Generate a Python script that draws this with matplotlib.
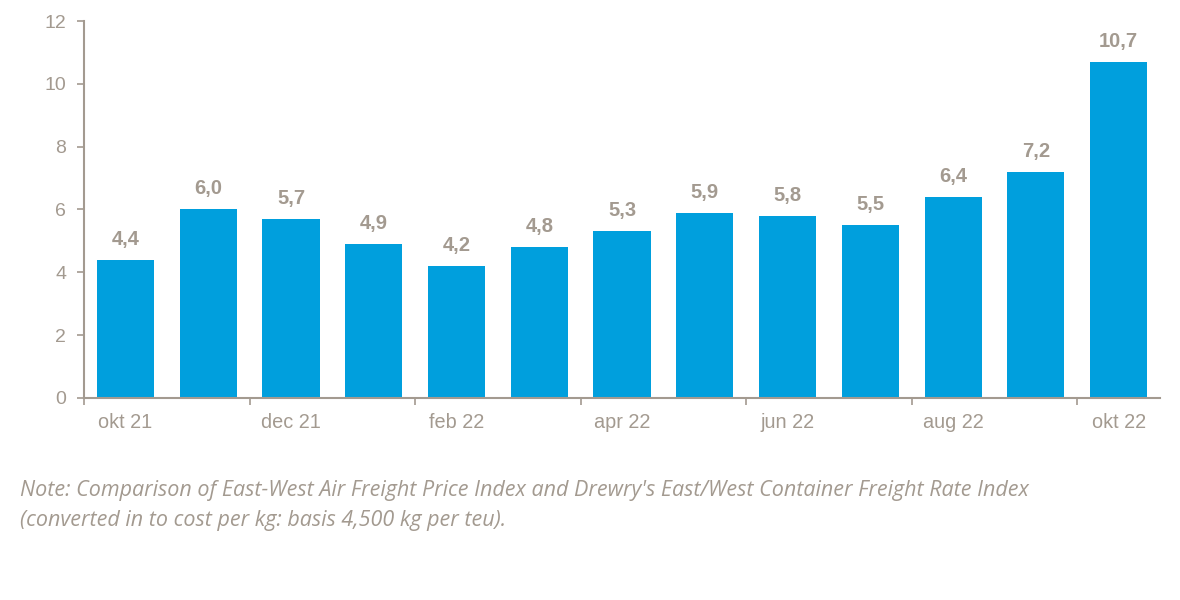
import matplotlib
matplotlib.use("Agg")
import matplotlib.pyplot as plt
import numpy as np

months = ["okt 21", "nov 21", "dec 21", "jan 22", "feb 22", "mar 22", "apr 22",
          "maj 22", "jun 22", "jul 22", "aug 22", "sep 22", "okt 22"]
values = [4.4, 6.0, 5.7, 4.9, 4.2, 4.8, 5.3, 5.9, 5.8, 5.5, 6.4, 7.2, 10.7]
yticks = [0, 2, 4, 6, 8, 10, 12]
note = ("Note: Comparison of East-West Air Freight Price Index and Drewry's East/West Container Freight Rate Index\n"
        "(converted in to cost per kg: basis 4,500 kg per teu).")

BAR = "#009FDD"
GREY = "#A39A90"

plt.rcParams['font.family'] = ['Liberation Sans', 'DejaVu Sans']

fig = plt.figure(figsize=(11.8, 6), dpi=100)
ax = fig.add_axes([0.0713, 0.3367, 0.9117, 0.6283])

x = np.arange(len(values))
ax.bar(x, values, width=0.69, color=BAR, zorder=2)
ax.set_xlim(-0.5, len(values) - 0.5)
ax.set_ylim(0, 12)

for xi, v in zip(x, values):
    ax.annotate(f"{v:.1f}".replace(".", ","), (xi, v), xytext=(0, 8),
                textcoords="offset points", ha="center", va="bottom",
                fontsize=14.5, fontweight="bold", color=GREY)

ax.set_yticks(yticks)
ax.set_yticklabels([str(t) for t in yticks], fontsize=14, color=GREY)
ax.set_xticks(x[::2])
ax.set_xticklabels(months[::2], fontsize=14.3, color=GREY)
ax.set_xticks(np.arange(-0.5, len(values), 2), minor=True)
ax.tick_params(axis="x", which="major", length=0, pad=10.5)
ax.tick_params(axis="x", which="minor", length=5, color=GREY, width=1.2, direction="out")
ax.tick_params(axis="y", length=5, color=GREY, width=1.2, pad=8)

for s in ["top", "right"]:
    ax.spines[s].set_visible(False)
for s in ["left", "bottom"]:
    ax.spines[s].set_color(GREY)
    ax.spines[s].set_linewidth(1.5)

fig.text(20 / 1180, 1 - 480 / 600, note, fontsize=15.45, style="italic",
         color=GREY, family=["Open Sans", "DejaVu Sans"], va="top", ha="left",
         linespacing=1.55)

fig.savefig("out.png", dpi=100, facecolor="white")
